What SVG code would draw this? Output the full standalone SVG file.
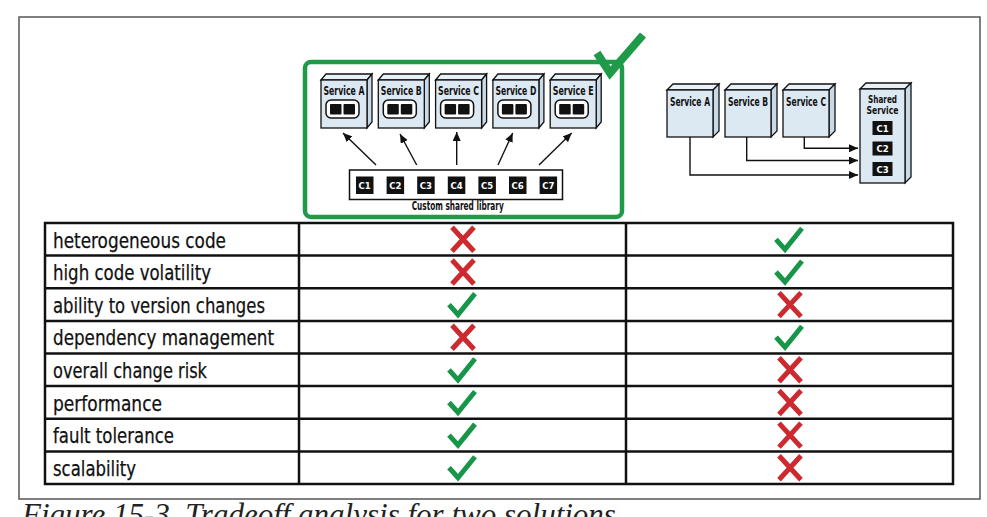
<svg xmlns="http://www.w3.org/2000/svg" xmlns:xlink="http://www.w3.org/1999/xlink" width="987" height="517" viewBox="0 0 987 517">
<style>
.frame{fill:none;stroke:#555;stroke-width:1.5}
.grid{fill:none;stroke:#111;stroke-width:2.5}
.rowtxt{font-family:"DejaVu Sans Condensed","DejaVu Sans",sans-serif;font-size:22px;fill:#111;stroke:#111;stroke-width:0.25}
.front{fill:#dce8f2;stroke:#111;stroke-width:1.3}
.top{fill:#e9f1f8;stroke:#111;stroke-width:1.3}
.side{fill:#c8d9e7;stroke:#111;stroke-width:1.3}
.lbl{font-family:"DejaVu Sans Condensed","DejaVu Sans",sans-serif;font-weight:bold;font-size:11.5px;fill:#111}
.lbl2{font-family:"DejaVu Sans Condensed","DejaVu Sans",sans-serif;font-weight:bold;font-size:10.5px;fill:#111;text-anchor:middle}
.inner{fill:#fff;stroke:#111;stroke-width:1.5}
.blk{fill:#111}
.ctxt{font-family:"DejaVu Sans Condensed","DejaVu Sans",sans-serif;font-weight:bold;font-size:9.5px;fill:#fff;text-anchor:middle}
.conn{fill:none;stroke:#111;stroke-width:1.4}
.chk{fill:none;stroke:#17964a;stroke-width:5;stroke-linejoin:miter}
.xx{fill:none;stroke:#cc2a2f;stroke-width:5;stroke-linecap:butt}
.lib{fill:#fff;stroke:#111;stroke-width:1.5}
.gbox{fill:none;stroke:#1e9a48;stroke-width:4.5}
.caption{font-family:"Liberation Serif",serif;font-style:italic;font-size:31px;fill:#222}
</style>
<defs>
<marker id="ah" markerWidth="9" markerHeight="8" refX="9" refY="4" orient="auto" markerUnits="userSpaceOnUse">
<path d="M0,0 L9,4 L0,8 Z" fill="#111"/>
</marker>
<path id="chk" class="chk" d="M-14,0 L-5,10 L12,-11"/>
<path id="xx" class="xx" d="M-11,-12 L11,12 M11,-12 L-11,12"/>
</defs>
<rect width="987" height="517" fill="#fff"/>
<rect class="frame" x="19" y="17" width="961" height="482"/>

<!-- Left option: custom shared library -->
<g id="option-library">
<rect class="gbox" x="305" y="62" width="317" height="155" rx="6"/>
<path d="M597,53 L610,73 L643,35" fill="none" stroke="#1e9a48" stroke-width="8"/>
</g>

<g id="svcA-left">
<path class="top" d="M321,80 L326,74 L372,74 L367,80 Z"/>
<path class="side" d="M367,80 L372,74 L372,122 L367,128 Z"/>
<rect class="front" x="321" y="80" width="46" height="48"/>
<text class="lbl" x="323.5" y="95" textLength="41" lengthAdjust="spacingAndGlyphs">Service A</text>
<rect class="inner" x="326" y="100" width="33" height="18" rx="5"/>
<rect class="blk" x="330" y="104" width="11.5" height="10.5" rx="1"/>
<rect class="blk" x="343.5" y="104" width="11.5" height="10.5" rx="1"/>
</g>
<g id="svcB-left">
<path class="top" d="M378.3,80 L383.3,74 L429.3,74 L424.3,80 Z"/>
<path class="side" d="M424.3,80 L429.3,74 L429.3,122 L424.3,128 Z"/>
<rect class="front" x="378.3" y="80" width="46" height="48"/>
<text class="lbl" x="380.8" y="95" textLength="41" lengthAdjust="spacingAndGlyphs">Service B</text>
<rect class="inner" x="383.3" y="100" width="33" height="18" rx="5"/>
<rect class="blk" x="387.3" y="104" width="11.5" height="10.5" rx="1"/>
<rect class="blk" x="400.8" y="104" width="11.5" height="10.5" rx="1"/>
</g>
<g id="svcC-left">
<path class="top" d="M435.6,80 L440.6,74 L486.6,74 L481.6,80 Z"/>
<path class="side" d="M481.6,80 L486.6,74 L486.6,122 L481.6,128 Z"/>
<rect class="front" x="435.6" y="80" width="46" height="48"/>
<text class="lbl" x="438.1" y="95" textLength="41" lengthAdjust="spacingAndGlyphs">Service C</text>
<rect class="inner" x="440.6" y="100" width="33" height="18" rx="5"/>
<rect class="blk" x="444.6" y="104" width="11.5" height="10.5" rx="1"/>
<rect class="blk" x="458.1" y="104" width="11.5" height="10.5" rx="1"/>
</g>
<g id="svcD-left">
<path class="top" d="M492.9,80 L497.9,74 L543.9,74 L538.9,80 Z"/>
<path class="side" d="M538.9,80 L543.9,74 L543.9,122 L538.9,128 Z"/>
<rect class="front" x="492.9" y="80" width="46" height="48"/>
<text class="lbl" x="495.4" y="95" textLength="41" lengthAdjust="spacingAndGlyphs">Service D</text>
<rect class="inner" x="497.9" y="100" width="33" height="18" rx="5"/>
<rect class="blk" x="501.9" y="104" width="11.5" height="10.5" rx="1"/>
<rect class="blk" x="515.4" y="104" width="11.5" height="10.5" rx="1"/>
</g>
<g id="svcE-left">
<path class="top" d="M550.2,80 L555.2,74 L601.2,74 L596.2,80 Z"/>
<path class="side" d="M596.2,80 L601.2,74 L601.2,122 L596.2,128 Z"/>
<rect class="front" x="550.2" y="80" width="46" height="48"/>
<text class="lbl" x="552.7" y="95" textLength="41" lengthAdjust="spacingAndGlyphs">Service E</text>
<rect class="inner" x="555.2" y="100" width="33" height="18" rx="5"/>
<rect class="blk" x="559.2" y="104" width="11.5" height="10.5" rx="1"/>
<rect class="blk" x="572.7" y="104" width="11.5" height="10.5" rx="1"/>
</g>

<g id="shared-library">
<rect class="lib" x="349.5" y="170" width="213" height="29.5"/>
<rect class="blk" x="356" y="176.5" width="17.5" height="17.5"/><text class="ctxt" x="364.7" y="189">C1</text>
<rect class="blk" x="386.6" y="176.5" width="17.5" height="17.5"/><text class="ctxt" x="395.3" y="189">C2</text>
<rect class="blk" x="417.2" y="176.5" width="17.5" height="17.5"/><text class="ctxt" x="425.9" y="189">C3</text>
<rect class="blk" x="447.8" y="176.5" width="17.5" height="17.5"/><text class="ctxt" x="456.5" y="189">C4</text>
<rect class="blk" x="478.4" y="176.5" width="17.5" height="17.5"/><text class="ctxt" x="487.1" y="189">C5</text>
<rect class="blk" x="509" y="176.5" width="17.5" height="17.5"/><text class="ctxt" x="517.7" y="189">C6</text>
<rect class="blk" x="539.6" y="176.5" width="17.5" height="17.5"/><text class="ctxt" x="548.3" y="189">C7</text>
<text class="lbl" x="411.7" y="210" textLength="92" lengthAdjust="spacingAndGlyphs">Custom shared library</text>
</g>

<!-- Right option: shared service -->
<g id="svcA-right">
<path class="top" d="M667,90 L673,84 L719,84 L713,90 Z"/>
<path class="side" d="M713,90 L719,84 L719,131 L713,137 Z"/>
<rect class="front" x="667" y="90" width="46" height="47"/>
<text class="lbl" x="670" y="106" textLength="40" lengthAdjust="spacingAndGlyphs">Service A</text>
</g>
<g id="svcB-right">
<path class="top" d="M725,90 L731,84 L777,84 L771,90 Z"/>
<path class="side" d="M771,90 L777,84 L777,131 L771,137 Z"/>
<rect class="front" x="725" y="90" width="46" height="47"/>
<text class="lbl" x="728" y="106" textLength="40" lengthAdjust="spacingAndGlyphs">Service B</text>
</g>
<g id="svcC-right">
<path class="top" d="M783,90 L789,84 L835,84 L829,90 Z"/>
<path class="side" d="M829,90 L835,84 L835,131 L829,137 Z"/>
<rect class="front" x="783" y="90" width="46" height="47"/>
<text class="lbl" x="786" y="106" textLength="40" lengthAdjust="spacingAndGlyphs">Service C</text>
</g>
<g id="shared-service">
<path class="top" d="M860,89 L866,83 L911,83 L905,89 Z"/>
<path class="side" d="M905,89 L911,83 L911,177 L905,183 Z"/>
<rect class="front" x="860" y="89" width="45" height="94"/>
<text class="lbl2" x="882.5" y="102.5" textLength="29" lengthAdjust="spacingAndGlyphs">Shared</text>
<text class="lbl2" x="882.5" y="114" textLength="32" lengthAdjust="spacingAndGlyphs">Service</text>
<rect class="blk" x="872.5" y="121" width="20" height="14"/><text class="ctxt" x="882.5" y="131.5">C1</text>
<rect class="blk" x="872.5" y="141.5" width="20" height="14"/><text class="ctxt" x="882.5" y="152">C2</text>
<rect class="blk" x="872.5" y="162" width="20" height="14"/><text class="ctxt" x="882.5" y="172.5">C3</text>
</g>

<g id="connectors">
<line class="conn" x1="376" y1="165" x2="343" y2="133" marker-end="url(#ah)"/>
<line class="conn" x1="416.7" y1="165" x2="400" y2="134" marker-end="url(#ah)"/>
<line class="conn" x1="456.7" y1="165" x2="456.7" y2="132" marker-end="url(#ah)"/>
<line class="conn" x1="498" y1="165" x2="512.7" y2="133" marker-end="url(#ah)"/>
<line class="conn" x1="539" y1="165" x2="571.7" y2="133" marker-end="url(#ah)"/>
<polyline class="conn" points="804.3,137 804.3,148.3 858,148.3" marker-end="url(#ah)"/>
<polyline class="conn" points="746.7,137 746.7,160.5 858,160.5" marker-end="url(#ah)"/>
<polyline class="conn" points="690,137 690,175 858,175" marker-end="url(#ah)"/>
</g>

<!-- Table -->
<g id="table">
<rect class="grid" x="45" y="223" width="908" height="261"/>
<line class="grid" x1="299" y1="223" x2="299" y2="484"/>
<line class="grid" x1="626" y1="223" x2="626" y2="484"/>
<line class="grid" x1="45" y1="255.6" x2="953" y2="255.6"/>
<line class="grid" x1="45" y1="288.3" x2="953" y2="288.3"/>
<line class="grid" x1="45" y1="320.9" x2="953" y2="320.9"/>
<line class="grid" x1="45" y1="353.5" x2="953" y2="353.5"/>
<line class="grid" x1="45" y1="386.1" x2="953" y2="386.1"/>
<line class="grid" x1="45" y1="418.8" x2="953" y2="418.8"/>
<line class="grid" x1="45" y1="451.4" x2="953" y2="451.4"/>
<text class="rowtxt" x="53" y="247.5" textLength="173" lengthAdjust="spacingAndGlyphs">heterogeneous code</text>
<text class="rowtxt" x="53" y="280.2" textLength="158" lengthAdjust="spacingAndGlyphs">high code volatility</text>
<text class="rowtxt" x="53" y="312.8" textLength="212" lengthAdjust="spacingAndGlyphs">ability to version changes</text>
<text class="rowtxt" x="53" y="345.4" textLength="221" lengthAdjust="spacingAndGlyphs">dependency management</text>
<text class="rowtxt" x="53" y="378" textLength="154" lengthAdjust="spacingAndGlyphs">overall change risk</text>
<text class="rowtxt" x="53" y="410.7" textLength="109" lengthAdjust="spacingAndGlyphs">performance</text>
<text class="rowtxt" x="53" y="443.3" textLength="121" lengthAdjust="spacingAndGlyphs">fault tolerance</text>
<text class="rowtxt" x="53" y="475.9" textLength="83" lengthAdjust="spacingAndGlyphs">scalability</text>
</g>
<g id="marks-library">
<use xlink:href="#xx" x="463" y="239.3"/>
<use xlink:href="#xx" x="463" y="272"/>
<use xlink:href="#chk" x="463" y="304.6"/>
<use xlink:href="#xx" x="463" y="337.2"/>
<use xlink:href="#chk" x="463" y="369.8"/>
<use xlink:href="#chk" x="463" y="402.5"/>
<use xlink:href="#chk" x="463" y="435.1"/>
<use xlink:href="#chk" x="463" y="467.7"/>
</g>
<g id="marks-service">
<use xlink:href="#chk" x="790" y="239.3"/>
<use xlink:href="#chk" x="790" y="272"/>
<use xlink:href="#xx" x="790" y="304.6"/>
<use xlink:href="#chk" x="790" y="337.2"/>
<use xlink:href="#xx" x="790" y="369.8"/>
<use xlink:href="#xx" x="790" y="402.5"/>
<use xlink:href="#xx" x="790" y="435.1"/>
<use xlink:href="#xx" x="790" y="467.7"/>
</g>
<text class="caption" x="22" y="525">Figure 15-3. Tradeoff analysis for two solutions</text>
</svg>
